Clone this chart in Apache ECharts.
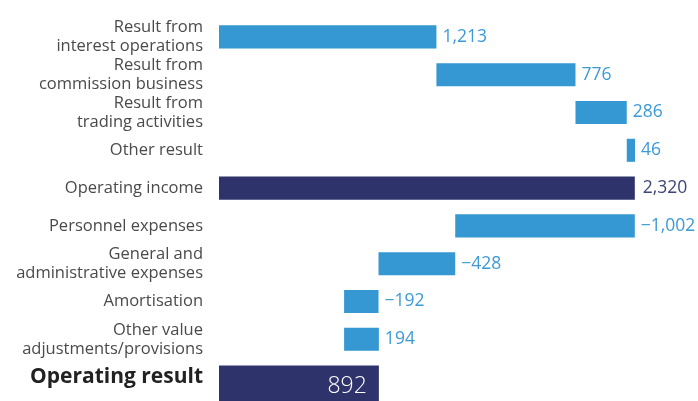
<!DOCTYPE html>
<html>
<head>
<meta charset="utf-8">
<script src="https://cdn.jsdelivr.net/npm/echarts@6/dist/echarts.min.js"></script>
<style>
html,body{margin:0;padding:0;background:#fff;}
#chart{width:698px;height:401px;}
</style>
</head>
<body>
<div id="chart"></div>
<script>
var categories = [
  "Result from\ninterest operations",
  "Result from\ncommission business",
  "Result from\ntrading activities",
  "Other result",
  "Operating income",
  "Personnel expenses",
  "General and\nadministrative expenses",
  "Amortisation",
  "Other value\nadjustments/provisions",
  "Operating result"
];
var values = [1213, 776, 286, 46, 2320, -1002, -428, -192, 194, 892];
var isTotal = [false, false, false, false, true, false, false, false, false, true];

var BLUE = '#3598d2';
var NAVY = '#2e336b';
var FONT = '"Open Sans", "Noto Sans", sans-serif';

function fmt(v) {
  var s = Math.abs(v).toLocaleString('en-US');
  return v < 0 ? '\u2212' + s : s;
}

var data = [];
var running = 0;
for (var i = 0; i < values.length; i++) {
  var start, end;
  if (isTotal[i]) { start = 0; end = values[i]; running = values[i]; }
  else { start = running; end = running + values[i]; running = end; }
  data.push([i, start, end, values[i], isTotal[i] ? 1 : 0]);
}

var chart = echarts.init(document.getElementById('chart'), null, {renderer: 'canvas'});
chart.setOption({
  animation: false,
  grid: {left: 219, right: 13, top: 18, height: 378, containLabel: false},
  xAxis: {type: 'value', min: 0, max: 2600, show: false},
  yAxis: {
    type: 'category', data: categories, inverse: true,
    axisLine: {show: false}, axisTick: {show: false}, splitLine: {show: false},
    axisLabel: {
      margin: 16, color: '#4a4a4a', fontFamily: FONT, fontSize: 16.5, lineHeight: 19,
      formatter: function (v) { return v === 'Operating result' ? '{b|' + v + '}' : v; },
      rich: {b: {fontWeight: 'bold', fontSize: 21, color: '#222', fontFamily: FONT}}
    }
  },
  series: [{
    type: 'custom',
    encode: {x: [1, 2], y: 0},
    data: data,
    renderItem: function (params, api) {
      var idx = api.value(0);
      var s = api.value(1), e = api.value(2), v = api.value(3), tot = api.value(4);
      var lo = Math.min(s, e), hi = Math.max(s, e);
      var p0 = api.coord([lo, idx]);
      var p1 = api.coord([hi, idx]);
      var band = api.size([0, 1])[1];
      var h = band * 0.61;
      var top = p0[1] - h / 2;
      var last = idx === values.length - 1;
      var height = last ? band * 1.2 : h;
      var children = [{
        type: 'rect',
        shape: {x: p0[0], y: top, width: p1[0] - p0[0], height: height},
        style: {fill: tot ? NAVY : BLUE}
      }];
      if (last) {
        children.push({
          type: 'text',
          style: {text: fmt(v), x: p1[0] - 12, y: p0[1] + 9, align: 'right', verticalAlign: 'middle',
                  fill: '#fff', font: '300 23px ' + FONT}
        });
      } else {
        children.push({
          type: 'text',
          style: {text: fmt(v), x: p1[0] + (tot ? 8 : 6), y: p0[1], align: 'left', verticalAlign: 'middle',
                  fill: tot ? '#3d4577' : '#3c9ad6', font: '17.5px ' + FONT}
        });
      }
      return {type: 'group', children: children};
    }
  }]
});
</script>
</body>
</html>
